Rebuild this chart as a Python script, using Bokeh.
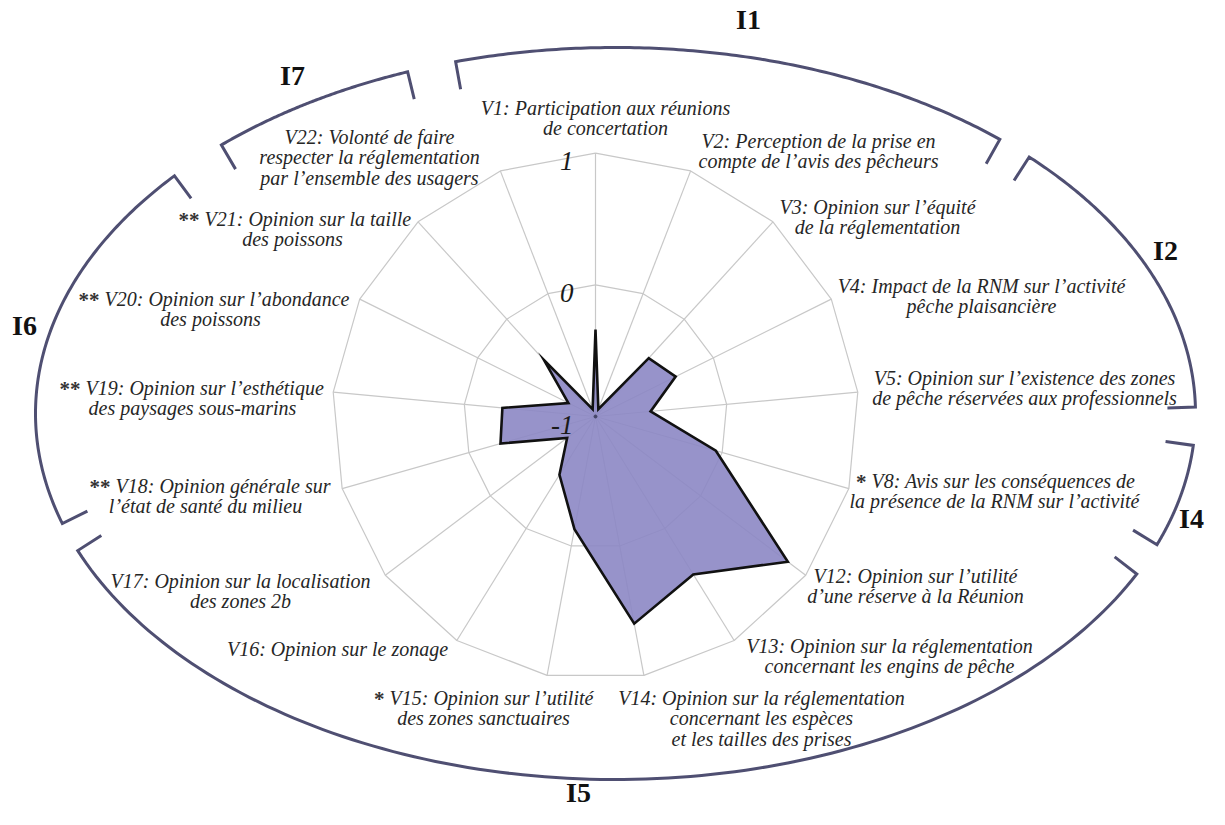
import numpy as np
from bokeh.plotting import figure
from bokeh.models import Range1d
from bokeh.embed import file_html
from bokeh.resources import INLINE
from bokeh.core.properties import value

# ---------------- data ----------------
variables = ["V1", "V2", "V3", "V4", "V5", "V8", "V12", "V13", "V14",
             "V15", "V16", "V17", "V18", "V19", "V20", "V21", "V22"]
scores = [-0.34, -0.94, -0.40, -0.32, -0.58, -0.05, 0.83, 0.41, 0.60,
          -0.13, -0.48, -0.73, -0.25, -0.29, -0.77, -0.42, -0.94]
significance = ["", "", "", "", "", "*", "", "", "",
                "*", "", "", "**", "**", "**", "**", ""]
label_lines = [
    ["V1: Participation aux réunions", "de concertation"],
    ["V2: Perception de la prise en", "compte de l’avis des pêcheurs"],
    ["V3: Opinion sur l’équité", "de la réglementation"],
    ["V4: Impact de la RNM sur l’activité", "pêche plaisancière"],
    ["V5: Opinion sur l’existence des zones", "de pêche réservées aux professionnels"],
    ["V8: Avis sur les conséquences de", "la présence de la RNM sur l’activité"],
    ["V12: Opinion sur l’utilité", "d’une réserve à la Réunion"],
    ["V13: Opinion sur la réglementation", "concernant les engins de pêche"],
    ["V14: Opinion sur la réglementation", "concernant les espèces", "et les tailles des prises"],
    ["V15: Opinion sur l’utilité", "des zones sanctuaires"],
    ["V16: Opinion sur le zonage"],
    ["V17: Opinion sur la localisation", "des zones 2b"],
    ["V18: Opinion générale sur", "l’état de santé du milieu"],
    ["V19: Opinion sur l’esthétique", "des paysages sous-marins"],
    ["V20: Opinion sur l’abondance", "des poissons"],
    ["V21: Opinion sur la taille", "des poissons"],
    ["V22: Volonté de faire", "respecter la réglementation", "par l’ensemble des usagers"],
]
scale_ticks = [-1, 0, 1]
groups = ["I1", "I2", "I4", "I5", "I6", "I7"]

# ---------------- layout (picture pixels) ----------------
CX, CY = 595, 416          # radar centre
UNIT = 131.7               # pixels per score unit
RMIN = -1
label_cx = [605, 818, 877, 981, 1024, 994, 915, 889, 761, 483,
            337, 240, 205, 192, 210, 292, 369]
label_y0 = [107, 140, 206, 285, 377, 480, 575, 645, 697, 697,
            648, 580, 485, 387, 298, 218, 136]
starred_left = {5: 871, 9: 389, 12: 115, 13: 85, 14: 104, 15: 204}
LINE_H = 20.6
ECX, ECY, EA, EB = 615, 413, 580, 366   # bracket ellipse
group_spans = [(106, 48.5), (44.5, 1), (-5, -21), (-26, -158),
               (-162.5, -220.5), (-227.2, -249)]
group_label_pos = [(748, 19), (1165, 250), (1191, 518), (578, 792),
                   (24, 325), (292, 75)]
TICK = 28
W, H = 1209, 809

p = figure(width=W, height=H, x_range=Range1d(0, W), y_range=Range1d(H, 0),
           output_backend="svg", toolbar_location=None, min_border=0,
           x_axis_type=None, y_axis_type=None)
p.grid.visible = False
p.outline_line_color = None
p.background_fill_color = "white"
p.border_fill_color = "white"

n = len(variables)
theta = np.arange(n) * 2 * np.pi / n

# grid rings (polygonal) and spokes
closed = np.append(theta, theta[0])
ring_xs, ring_ys = [], []
for t in scale_ticks[1:]:
    r = (t - RMIN) * UNIT
    ring_xs.append(list(CX + r * np.sin(closed)))
    ring_ys.append(list(CY - r * np.cos(closed)))
p.multi_line(ring_xs, ring_ys, line_color="#c8c8c8", line_width=1.2)
rmax = (scale_ticks[-1] - RMIN) * UNIT
p.multi_line([[CX, CX + rmax * np.sin(a)] for a in theta],
             [[CY, CY - rmax * np.cos(a)] for a in theta],
             line_color="#c8c8c8", line_width=1.2)

# data polygon
rv = (np.array(scores) - RMIN) * UNIT
px = CX + rv * np.sin(theta)
py = CY - rv * np.cos(theta)
p.patch(list(px), list(py), fill_color="#8C87C4", fill_alpha=0.9,
        line_color="#111111", line_width=2.6, line_join="miter")
p.scatter([CX], [CY], size=3, color="#444466")

# scale labels
p.text(x=[CX - 22] * len(scale_ticks),
       y=[CY - (t - RMIN) * UNIT + 8 for t in scale_ticks],
       text=[str(t) for t in scale_ticks], text_align="right", text_baseline="middle",
       text_font=value("Liberation Serif"), text_font_style="italic",
       text_font_size="27px", text_color="#1a1a1a")

# variable labels
cx_, cy_, ct_ = [], [], []      # centred lines
lx_, ly_, lt_ = [], [], []      # left-aligned first lines (with markers)
sx_, sy_, st_ = [], [], []      # significance markers
for i, lines in enumerate(label_lines):
    for k, s in enumerate(lines):
        yk = label_y0[i] + k * LINE_H
        if k == 0 and i in starred_left:
            lx_.append(starred_left[i]); ly_.append(yk); lt_.append(s)
            sx_.append(starred_left[i] - 5); sy_.append(yk + 1); st_.append(significance[i])
        else:
            cx_.append(label_cx[i]); cy_.append(yk); ct_.append(s)
common = dict(text_baseline="middle", text_font=value("Liberation Serif"),
              text_font_style="italic", text_font_size="20px", text_color="#262626")
p.text(x=cx_, y=cy_, text=ct_, text_align="center", **common)
p.text(x=lx_, y=ly_, text=lt_, text_align="left", **common)
p.text(x=sx_, y=sy_, text=st_, text_align="right", text_baseline="middle",
       text_font=value("Liberation Serif"), text_font_style="bold",
       text_font_size="21px", text_color="#333333")

# group brackets on the ellipse
def inward(tt_):
    nx, ny = np.cos(tt_) / EA, -np.sin(tt_) / EB
    L = np.hypot(nx, ny)
    return -nx / L, -ny / L

bx, by = [], []
for a0, a1 in group_spans:
    t = np.radians(np.linspace(a0, a1, 120))
    ex = ECX + EA * np.cos(t)
    ey = ECY - EB * np.sin(t)
    ix0, iy0 = inward(t[0])
    ix1, iy1 = inward(t[-1])
    bx.append([ex[0] + TICK * ix0] + list(ex) + [ex[-1] + TICK * ix1])
    by.append([ey[0] + TICK * iy0] + list(ey) + [ey[-1] + TICK * iy1])
p.multi_line(bx, by, line_color="#4f4f72", line_width=3, line_join="miter")

p.text(x=[g[0] for g in group_label_pos], y=[g[1] for g in group_label_pos],
       text=groups, text_align="center", text_baseline="middle",
       text_font=value("Liberation Serif"), text_font_style="bold",
       text_font_size="28px", text_color="#111111")

open("out.html", "w").write(file_html(p, INLINE))
